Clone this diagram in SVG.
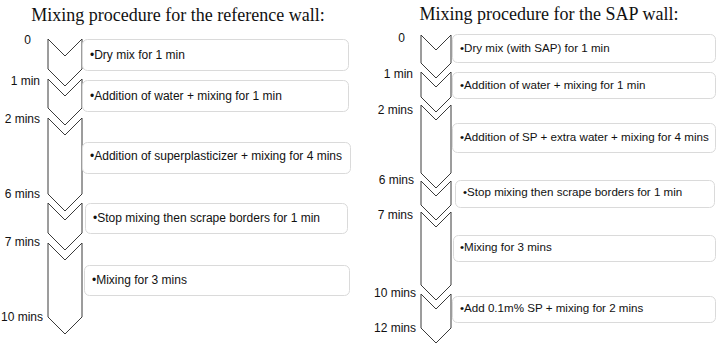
<svg xmlns="http://www.w3.org/2000/svg" width="721" height="349" viewBox="0 0 721 349">
<style>
.title{font-family:"Liberation Serif","Times New Roman",serif;font-size:18px;fill:#111;text-anchor:middle}
.t{font-family:"Liberation Sans",Arial,sans-serif;font-size:12px;fill:#111}
.tr{font-family:"Liberation Sans",Arial,sans-serif;font-size:11.6px;fill:#111}
.lbl{font-family:"Liberation Sans",Arial,sans-serif;font-size:12px;fill:#111;text-anchor:end}
.chev{fill:#fff;stroke:#3a3a3a;stroke-width:1;stroke-linejoin:miter}
.box{fill:#fff;stroke:#dadada;stroke-width:1}
</style>
<rect width="721" height="349" fill="#fff"/>
<text class="title" x="178" y="21">Mixing procedure for the reference wall:</text>
<text class="title" x="549" y="20">Mixing procedure for the SAP wall:</text>

<g id="left-timeline">
<g id="L-labels">
<text class="lbl" x="31" y="44">0</text>
<text class="lbl" x="40" y="85">1 min</text>
<text class="lbl" x="40" y="123">2 mins</text>
<text class="lbl" x="40" y="198">6 mins</text>
<text class="lbl" x="40" y="246">7 mins</text>
<text class="lbl" x="43" y="321">10 mins</text>
</g>
<g id="L1"><polygon class="chev" points="48,39 65,56 82,39 82,69 65,86 48,69"/><rect class="box" x="82.5" y="39.5" width="266" height="31" rx="5"/><text class="t" x="90" y="59">•Dry mix for 1 min</text></g>
<g id="L2"><polygon class="chev" points="48,79 65,96 82,79 82,108 65,125 48,108"/><rect class="box" x="82.5" y="80.5" width="266" height="31" rx="5"/><text class="t" x="90" y="100">•Addition of water + mixing for 1 min</text></g>
<g id="L3"><polygon class="chev" points="48,118 65,135 82,118 82,194 65,211 48,194"/><rect class="box" x="82.5" y="142.5" width="268" height="31" rx="5"/><text class="t" x="90" y="160">•Addition of superplasticizer + mixing for 4 mins</text></g>
<g id="L4"><polygon class="chev" points="48,203 65,220 82,203 82,233 65,250 48,233"/><rect class="box" x="85.5" y="203.5" width="262" height="30" rx="5"/><text class="t" x="93" y="222">•Stop mixing then scrape borders for 1 min</text></g>
<g id="L5"><polygon class="chev" points="48,243 65,260 82,243 82,317 65,334 48,317"/><rect class="box" x="84.5" y="265.5" width="265" height="30" rx="5"/><text class="t" x="92" y="284">•Mixing for 3 mins</text></g>
</g>

<g id="right-timeline">
<g id="R-labels">
<text class="lbl" x="405" y="42">0</text>
<text class="lbl" x="413" y="78">1 min</text>
<text class="lbl" x="413" y="114">2 mins</text>
<text class="lbl" x="414" y="184">6 mins</text>
<text class="lbl" x="413" y="219">7 mins</text>
<text class="lbl" x="416" y="297">10 mins</text>
<text class="lbl" x="416" y="332">12 mins</text>
</g>
<g id="R1"><polygon class="chev" points="421,35 436,50 451,35 451,63 436,78 421,63"/><rect class="box" x="452.5" y="34.5" width="263" height="28" rx="5"/><text class="tr" x="460" y="52">•Dry mix (with SAP) for 1 min</text></g>
<g id="R2"><polygon class="chev" points="421,72 436,87 451,72 451,97 436,112 421,97"/><rect class="box" x="452.5" y="72.5" width="263" height="26" rx="5"/><text class="tr" x="460" y="89">•Addition of water + mixing for 1 min</text></g>
<g id="R3"><polygon class="chev" points="421,105 436,120 451,105 451,173 436,188 421,173"/><rect class="box" x="452.5" y="123.5" width="263" height="29" rx="5"/><text class="tr" x="460" y="141">•Addition of SP + extra water + mixing for 4 mins</text></g>
<g id="R4"><polygon class="chev" points="421,181 436,196 451,181 451,205 436,220 421,205"/><rect class="box" x="455.5" y="180.5" width="259" height="27" rx="5"/><text class="tr" x="463" y="196">•Stop mixing then scrape borders for 1 min</text></g>
<g id="R5"><polygon class="chev" points="421,212 436,227 451,212 451,285 436,300 421,285"/><rect class="box" x="453.5" y="235.5" width="262" height="26" rx="5"/><text class="tr" x="460" y="251">•Mixing for 3 mins</text></g>
<g id="R6"><polygon class="chev" points="421,294 436,309 451,294 451,328 436,343 421,328"/><rect class="box" x="452.5" y="296.5" width="263" height="26" rx="5"/><text class="tr" x="460" y="312">•Add 0.1m% SP + mixing for 2 mins</text></g>
</g>
</svg>
